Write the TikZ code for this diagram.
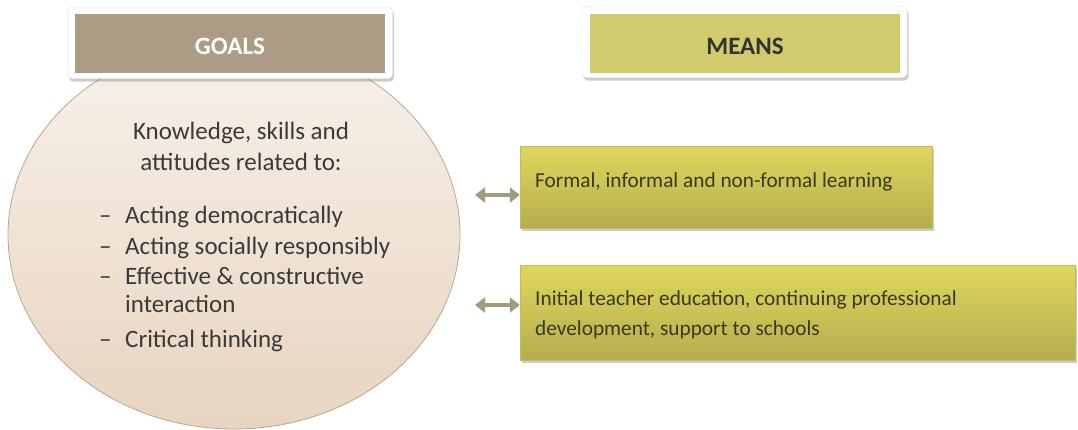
\documentclass[tikz,border=0pt]{standalone}
\usepackage{fontspec}
\setmainfont{Carlito}
\usetikzlibrary{shapes.geometric,shadows,arrows.meta}
\definecolor{goalc}{HTML}{AD9C85}
\definecolor{meanc}{HTML}{D2CB6E}
\definecolor{elltop}{HTML}{F8F1EA}
\definecolor{ellbot}{HTML}{E8D4C0}
\definecolor{ellline}{HTML}{B8A890}
\definecolor{boxtop}{HTML}{DFD75C}
\definecolor{boxbot}{HTML}{B5AD4E}
\definecolor{boxline}{HTML}{C4BC58}
\definecolor{arrowc}{HTML}{A19C7F}
\definecolor{txtdark}{HTML}{3A3A3A}
\definecolor{txtolive}{HTML}{3A3A22}
\tikzset{
  frame/.style={draw=black!12, fill=white, rounded corners=4pt, minimum width=325pt, minimum height=71pt,
    drop shadow={shadow xshift=1.5pt, shadow yshift=-3pt, opacity=0.4}},
  head/.style={minimum width=310pt, minimum height=59pt, inner sep=0pt},
  htext/.style={inner sep=0pt, anchor=mid, font=\fontsize{25}{28}\selectfont\bfseries},
  meansbox/.style={draw=boxline, top color=boxtop, bottom color=boxbot, inner sep=0pt,
    drop shadow={shadow xshift=2pt, shadow yshift=-3pt, opacity=0.4}},
  btext/.style={anchor=mid west, inner sep=0pt, text=txtolive, font=\fontsize{21.3}{25}\selectfont},
  etext/.style={anchor=mid west, inner sep=0pt, text=txtdark, font=\fontsize{25}{29}\selectfont},
  ctext/.style={anchor=mid, inner sep=0pt, text=txtdark, font=\fontsize{25}{29}\selectfont},
  dbl/.style={line width=4pt, draw=arrowc, {Triangle[length=10pt,width=15pt]}-{Triangle[length=10pt,width=15pt]}}
}
\begin{document}
\begin{tikzpicture}[x=1pt,y=-1pt]
\useasboundingbox (0,0) rectangle (1078,429);
% ellipse
\node (goal) [ellipse, draw=ellline, line width=0.8pt, top color=elltop, bottom color=ellbot,
  minimum width=452pt, minimum height=388pt, inner sep=0pt] at (234,235) {};
% headers
\node (gframe) [frame] at (230,43) {};
\node (ghead) [head, fill=goalc] at (230,43) {};
\node (gtext) [htext, text=white] at (230,52) {GOALS};
\node (mframe) [frame] at (744.5,42) {};
\node (mhead) [head, fill=meanc] at (745,43) {};
\node (mtext) [htext, text=black!80] at (745,52) {MEANS};
% ellipse text
\node (k1) [ctext] at (241,137) {Knowledge, skills and};
\node (k2) [ctext] at (241,168) {attitudes related to:};
\node (d1) [etext] at (99,221) {–};
\node (i1) [etext] at (125,221) {Acting democratically};
\node (d2) [etext] at (99,252) {–};
\node (i2) [etext] at (125,252) {Acting socially responsibly};
\node (d3) [etext] at (99,282) {–};
\node (i3) [etext] at (125,282) {Effective \& constructive};
\node (i3b) [etext] at (125,310) {interaction};
\node (d4) [etext] at (99,345) {–};
\node (i4) [etext] at (125,345) {Critical thinking};
% means boxes
\node (b1) [meansbox, minimum width=412pt, minimum height=82pt] at (726,187) {};
\node (t1) [btext] at (535,185) {Formal, informal and non-formal learning};
\node (b2) [meansbox, minimum width=555pt, minimum height=95pt] at (797.5,312.5) {};
\node (t2a) [btext] at (535,303) {Initial teacher education, continuing professional};
\node (t2b) [btext] at (535,333) {development, support to schools};
% arrows
\coordinate (a1) at (475,195);
\coordinate (a2) at (475,305);
\draw[dbl] (a1) -- (a1 -| b1.west);
\draw[dbl] (a2) -- (a2 -| b2.west);
\end{tikzpicture}
\end{document}
